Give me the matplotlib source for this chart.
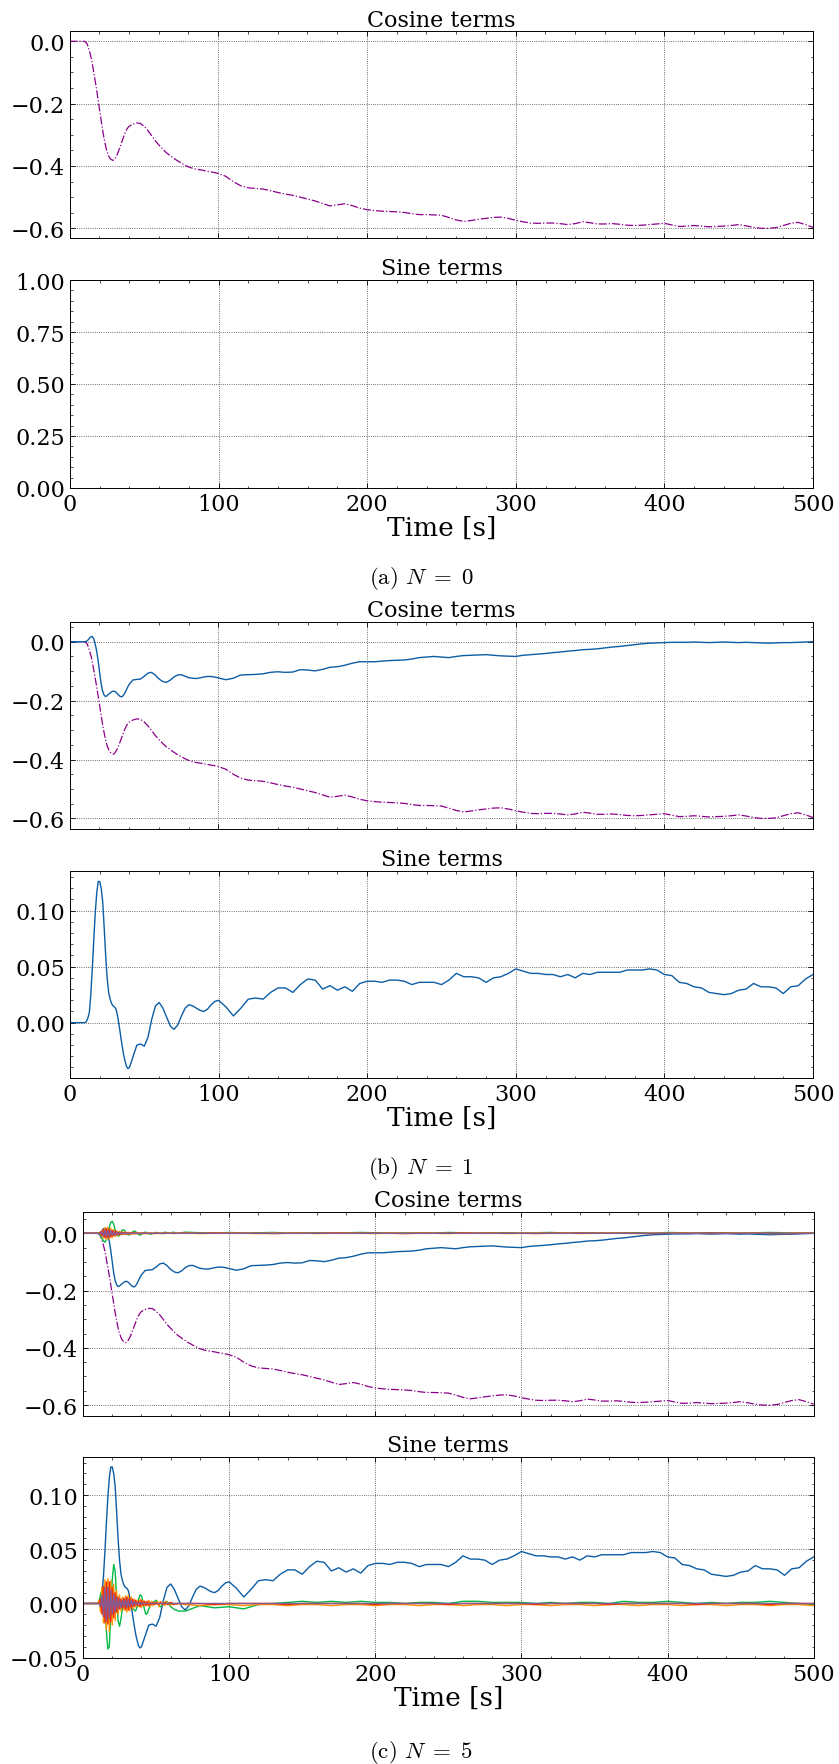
import numpy as np
import matplotlib
matplotlib.use("Agg")
import matplotlib.pyplot as plt
from matplotlib.ticker import AutoMinorLocator, MultipleLocator

# ---------------------------------------------------------------- time grids
T_FINE = np.arange(0.0, 40.1, 1.0)        # 0 ... 40 s
T_MID = np.arange(42.5, 100.1, 2.5)       # 42.5 ... 100 s
T_LATE = np.arange(105.0, 500.1, 5.0)     # 105 ... 500 s
T_MAIN = np.concatenate([T_FINE, T_MID, T_LATE])

T_HI_EARLY = np.arange(0.0, 65.1, 1.0)    # 0 ... 65 s
T_HI_LATE = np.arange(70.0, 500.1, 10.0)  # 70 ... 500 s
T_HI = np.concatenate([T_HI_EARLY, T_HI_LATE])

# ------------------------------------------------ zeroth-order cosine term a0
a0_fine = [0.0, 0.0, 0.0, 0.0, 0.0, 0.0, 0.0, 0.0, 0.0, 0.0, 0.0,
           -0.003, -0.01, -0.025, -0.042, -0.062, -0.09, -0.118, -0.148, -0.18, -0.212,
           -0.245, -0.277, -0.305, -0.33, -0.35, -0.364, -0.374, -0.379, -0.382, -0.38,
           -0.373, -0.364, -0.352, -0.339, -0.325, -0.311, -0.298, -0.287, -0.279, -0.273]
a0_mid = [-0.266, -0.262, -0.263, -0.272, -0.285, -0.301, -0.318, -0.332, -0.345, -0.357,
          -0.366, -0.375, -0.383, -0.39, -0.397, -0.403, -0.407, -0.41, -0.412, -0.414,
          -0.417, -0.419, -0.421, -0.424]
a0_late = [-0.433, -0.45, -0.463, -0.47, -0.472, -0.474, -0.479, -0.485, -0.49, -0.494,
           -0.5, -0.506, -0.512, -0.52, -0.528, -0.525, -0.521, -0.527, -0.535, -0.54,
           -0.543, -0.545, -0.546, -0.547, -0.549, -0.553, -0.556, -0.556, -0.557, -0.558,
           -0.565, -0.573, -0.578, -0.575, -0.571, -0.568, -0.565, -0.564, -0.568, -0.574,
           -0.579, -0.583, -0.584, -0.583, -0.583, -0.585, -0.588, -0.585, -0.579, -0.582,
           -0.586, -0.586, -0.585, -0.587, -0.59, -0.591, -0.59, -0.588, -0.586, -0.584,
           -0.589, -0.594, -0.593, -0.591, -0.593, -0.595, -0.594, -0.593, -0.591, -0.588,
           -0.592, -0.597, -0.6, -0.6, -0.598, -0.591, -0.584, -0.581, -0.588, -0.597]

# ------------------------------------------------- first-order terms a1, b1
a1_fine = [0.0, 0.0, 0.0, 0.0, 0.0, 0.0, 0.0, 0.0, 0.0, 0.0, 0.0,
           0.001, 0.004, 0.010, 0.016, 0.018, 0.012, -0.005, -0.028, -0.06, -0.1,
           -0.138, -0.165, -0.18, -0.186, -0.184, -0.179, -0.175, -0.171, -0.168, -0.168,
           -0.171, -0.176, -0.182, -0.186, -0.187, -0.183, -0.175, -0.165, -0.154, -0.145]
a1_mid = [-0.13, -0.128, -0.127, -0.118, -0.107, -0.104, -0.113, -0.126, -0.135, -0.138,
          -0.131, -0.12, -0.113, -0.112, -0.117, -0.122, -0.124, -0.125, -0.123, -0.12,
          -0.118, -0.118, -0.12, -0.123]
a1_late = [-0.129, -0.124, -0.113, -0.112, -0.111, -0.109, -0.104, -0.102, -0.104, -0.103,
           -0.095, -0.096, -0.099, -0.094, -0.087, -0.085, -0.08, -0.073, -0.068, -0.068,
           -0.068, -0.066, -0.064, -0.063, -0.062, -0.059, -0.054, -0.052, -0.05, -0.052,
           -0.054, -0.05, -0.047, -0.046, -0.045, -0.044, -0.046, -0.048, -0.049, -0.05,
           -0.046, -0.044, -0.042, -0.04, -0.037, -0.035, -0.032, -0.03, -0.027, -0.026,
           -0.024, -0.021, -0.018, -0.016, -0.013, -0.01, -0.007, -0.005, -0.004, -0.003,
           -0.002, -0.002, -0.002, -0.001, -0.002, -0.003, -0.002, -0.001, -0.002, -0.003,
           -0.002, -0.003, -0.004, -0.005, -0.004, -0.003, -0.003, -0.002, -0.001, 0.0]

b1_fine = [0.0, 0.0, 0.0, 0.0, 0.0, 0.0, 0.0, 0.0, 0.0, 0.0, 0.0,
           0.001, 0.004, 0.009, 0.025, 0.048, 0.074, 0.098, 0.116, 0.126, 0.126,
           0.12, 0.108, 0.085, 0.06, 0.04, 0.027, 0.021, 0.017, 0.015, 0.014,
           0.012, 0.006, -0.002, -0.011, -0.02, -0.028, -0.034, -0.039, -0.041, -0.04]
b1_mid = [-0.03, -0.02, -0.019, -0.021, -0.013, 0.003, 0.015, 0.018, 0.013, 0.005,
          -0.003, -0.006, -0.002, 0.006, 0.013, 0.016, 0.015, 0.013, 0.011, 0.01,
          0.012, 0.016, 0.019, 0.02]
b1_late = [0.014, 0.006, 0.013, 0.021, 0.022, 0.021, 0.027, 0.031, 0.031, 0.027,
           0.034, 0.039, 0.038, 0.030, 0.033, 0.029, 0.032, 0.028, 0.035, 0.037,
           0.037, 0.036, 0.038, 0.038, 0.037, 0.034, 0.036, 0.036, 0.036, 0.034,
           0.038, 0.044, 0.041, 0.041, 0.040, 0.036, 0.040, 0.041, 0.044, 0.048,
           0.046, 0.044, 0.044, 0.043, 0.043, 0.041, 0.043, 0.040, 0.044, 0.043,
           0.045, 0.045, 0.045, 0.045, 0.047, 0.047, 0.047, 0.048, 0.047, 0.043,
           0.042, 0.036, 0.035, 0.032, 0.031, 0.027, 0.026, 0.025, 0.026, 0.029,
           0.030, 0.035, 0.032, 0.032, 0.031, 0.026, 0.032, 0.033, 0.039, 0.043]

a0 = np.array(a0_fine + a0_mid + a0_late)
a1 = np.array(a1_fine + a1_mid + a1_late)
b1 = np.array(b1_fine + b1_mid + b1_late)

# ---------------------------------------------- higher-order terms (N = 5)
a2 = np.array([0, 0, 0, 0, 0, 0, 0, 0, 0, 0, 0,
               -0.002, -0.008, -0.018, -0.027, -0.031, -0.022, -0.002, 0.022, 0.038, 0.042,
               0.032, 0.012, -0.004, -0.010, -0.007, 0.004, 0.012, 0.012, 0.006, -0.002,
               -0.006, -0.005, 0.000, 0.005, 0.008, 0.006, 0.001, -0.004, -0.006, -0.004,
               0.000, 0.003, 0.004, 0.002, -0.001, -0.003, -0.002, 0.000, 0.002, 0.003,
               0.002, 0.000, -0.001, 0.000, 0.002, 0.004, 0.003, 0.001, 0.000, 0.001,
               0.003, 0.004, 0.002, 0.000, 0.000,
               0.004, 0.002, 0.001, 0.003, 0.001, 0.002, 0.003, 0.001, 0.002, 0.002,
               0.001, 0.002, 0.003, 0.002, 0.001, 0.002, 0.002, 0.001, 0.003, 0.002,
               0.001, 0.002, 0.002, 0.001, 0.002, 0.003, 0.001, 0.002, 0.002, 0.001,
               0.002, 0.002, 0.001, 0.003, 0.002, 0.001, 0.002, 0.002, 0.001, 0.002,
               0.003, 0.002, 0.001, 0.002])
a3 = np.array([0, 0, 0, 0, 0, 0, 0, 0, 0, 0, 0,
               0.002, -0.006, 0.012, -0.016, 0.020, -0.022, 0.021, -0.020, 0.018, -0.016,
               0.013, -0.011, 0.009, -0.008, 0.007, -0.006, 0.006, -0.005, 0.005, -0.004,
               0.004, -0.004, 0.003, -0.003, 0.004, -0.003, 0.003, -0.002, 0.002, -0.002,
               0.002, -0.002, 0.002, -0.001, 0.001, -0.001, 0.002, -0.001, 0.001, -0.001,
               0.001, -0.001, 0.001, 0.000, 0.001, -0.001, 0.001, 0.000, 0.001, 0.000,
               0.001, 0.000, 0.001, 0.000, 0.000,
               0.001, -0.001, 0.000, 0.001, 0.000, -0.001, 0.001, 0.000, 0.001, -0.001,
               0.000, 0.001, 0.000, -0.001, 0.001, 0.000, 0.001, 0.000, -0.001, 0.001,
               0.000, 0.001, -0.001, 0.000, 0.001, 0.000, 0.001, -0.001, 0.000, 0.001,
               0.000, -0.001, 0.001, 0.000, 0.001, 0.000, -0.001, 0.001, 0.000, 0.001,
               -0.001, 0.000, 0.001, 0.000])
a4 = np.array([0, 0, 0, 0, 0, 0, 0, 0, 0, 0, 0,
               0.000, 0.004, -0.009, 0.013, -0.016, 0.017, -0.016, 0.015, -0.013, 0.011,
               -0.009, 0.008, -0.006, 0.005, -0.004, 0.004, -0.003, 0.003, -0.003, 0.002,
               -0.002, 0.002, -0.002, 0.002, -0.001, 0.001, -0.001, 0.001, -0.001, 0.001,
               0.000, 0.001, 0.000, -0.001, 0.000, 0.001, 0.000, 0.000, -0.001, 0.000,
               0.001, 0.000, 0.000, 0.000, -0.001, 0.000, 0.000, 0.001, 0.000, 0.000,
               0.000, -0.001, 0.000, 0.000, 0.000,
               0.000, 0.000, 0.001, 0.000, 0.000, 0.000, -0.001, 0.000, 0.000, 0.000,
               0.001, 0.000, 0.000, 0.000, 0.000, -0.001, 0.000, 0.000, 0.000, 0.001,
               0.000, 0.000, 0.000, 0.000, -0.001, 0.000, 0.000, 0.001, 0.000, 0.000,
               0.000, 0.000, -0.001, 0.000, 0.000, 0.000, 0.001, 0.000, 0.000, 0.000,
               0.000, -0.001, 0.000, 0.000])
a5 = np.array([0, 0, 0, 0, 0, 0, 0, 0, 0, 0, 0,
               0.000, -0.003, 0.007, -0.010, 0.012, -0.013, 0.012, -0.011, 0.010, -0.008,
               0.007, -0.006, 0.005, -0.004, 0.003, -0.003, 0.002, -0.002, 0.002, -0.001,
               0.001, -0.001, 0.001, -0.001, 0.001, 0.000, 0.000, 0.000, 0.000, 0.000,
               0.000, 0.000, 0.000, 0.000, 0.000, 0.000, 0.000, 0.000, 0.000, 0.000,
               0.000, 0.000, 0.000, 0.000, 0.000, 0.000, 0.000, 0.000, 0.000, 0.000,
               0.000, 0.000, 0.000, 0.000, 0.000,
               0.000, 0.000, 0.000, 0.000, 0.000, 0.000, 0.000, 0.000, 0.000, 0.000,
               0.000, 0.000, 0.000, 0.000, 0.000, 0.000, 0.000, 0.000, 0.000, 0.000,
               0.000, 0.000, 0.000, 0.000, 0.000, 0.000, 0.000, 0.000, 0.000, 0.000,
               0.000, 0.000, 0.000, 0.000, 0.000, 0.000, 0.000, 0.000, 0.000, 0.000,
               0.000, 0.000, 0.000, 0.000])

b2 = np.array([0, 0, 0, 0, 0, 0, 0, 0, 0, 0, 0,
               0.002, 0.008, 0.013, 0.014, 0.002, -0.025, -0.042, -0.040, -0.010, 0.022,
               0.036, 0.030, 0.005, -0.016, -0.021, -0.014, -0.004, 0.002, 0.003, 0.002,
               0.001, 0.000, -0.002, -0.004, -0.006, -0.007, -0.003, 0.004, 0.008, 0.007,
               0.002, -0.005, -0.010, -0.009, -0.005, -0.002, 0.000, 0.001, 0.002, 0.003,
               0.001, -0.002, -0.003, -0.002, 0.000, 0.001, 0.002, 0.001, -0.001, -0.003,
               -0.004, -0.005, -0.006, -0.006, -0.007,
               -0.007, -0.002, -0.004, -0.003, -0.005, -0.001, 0.000, 0.001, 0.002, 0.001,
               0.002, 0.001, 0.002, 0.001, 0.001, 0.000, 0.001, 0.001, 0.000, 0.002,
               0.002, 0.001, 0.001, 0.001, 0.000, 0.001, 0.000, 0.001, 0.001, 0.000,
               0.002, 0.001, 0.001, 0.002, 0.001, 0.000, 0.001, 0.000, 0.001, 0.001,
               0.002, 0.001, 0.000, -0.001])
b3 = np.array([0, 0, 0, 0, 0, 0, 0, 0, 0, 0, 0,
               0.003, -0.008, 0.015, -0.018, 0.022, -0.024, 0.023, -0.026, 0.021, -0.020,
               0.018, -0.016, 0.012, -0.010, 0.008, -0.007, 0.006, -0.006, 0.007, -0.008,
               0.008, -0.007, 0.006, -0.005, 0.004, -0.003, 0.003, -0.003, 0.004, -0.004,
               0.003, -0.002, 0.002, -0.002, 0.003, -0.003, 0.002, -0.002, 0.001, -0.001,
               0.002, -0.003, 0.002, -0.001, 0.001, -0.002, 0.002, -0.001, 0.001, -0.002,
               0.001, -0.001, 0.000, -0.001, 0.000,
               -0.001, -0.002, -0.001, -0.001, -0.002, -0.001, -0.001, -0.002, -0.001, -0.001,
               -0.002, -0.001, -0.001, -0.002, -0.001, -0.001, -0.002, -0.001, -0.001, -0.002,
               -0.001, -0.001, -0.002, -0.001, -0.001, -0.002, -0.001, -0.001, -0.002, -0.001,
               -0.001, -0.002, -0.001, -0.001, -0.002, -0.001, -0.001, -0.002, -0.001, -0.001,
               -0.002, -0.001, -0.001, -0.002])
b4 = np.array([0, 0, 0, 0, 0, 0, 0, 0, 0, 0, 0, 0,
               0.004, -0.010, 0.016, -0.018, 0.020, -0.019, 0.020, -0.017, 0.015,
               -0.013, 0.010, -0.008, 0.006, -0.005, 0.004, -0.004, 0.005, -0.006, 0.006,
               -0.006, 0.005, -0.004, 0.004, -0.003, 0.003, -0.002, 0.002, -0.003, 0.003,
               -0.002, 0.002, -0.002, 0.002, -0.002, 0.001, -0.001, 0.001, -0.001, 0.001,
               0.000, -0.001, 0.001, 0.000, -0.001, 0.001, 0.000, -0.001, 0.000, 0.001,
               0.000, -0.001, 0.000, 0.000, 0.000,
               0.000, 0.000, -0.001, 0.000, 0.000, 0.000, 0.000, -0.001, 0.000, 0.000,
               0.000, 0.000, 0.000, -0.001, 0.000, 0.000, 0.000, 0.000, -0.001, 0.000,
               0.000, 0.000, 0.000, 0.000, -0.001, 0.000, 0.000, 0.000, 0.000, -0.001,
               0.000, 0.000, 0.000, 0.000, 0.000, -0.001, 0.000, 0.000, 0.000, 0.000,
               -0.001, 0.000, 0.000, 0.000])
b5 = np.array([0, 0, 0, 0, 0, 0, 0, 0, 0, 0, 0, 0,
               -0.003, 0.008, -0.012, 0.015, -0.016, 0.015, -0.014, 0.012, -0.010,
               0.009, -0.008, 0.006, -0.005, 0.004, -0.004, 0.003, -0.003, 0.004, -0.004,
               0.004, -0.003, 0.003, -0.002, 0.002, -0.001, 0.001, -0.001, 0.001, -0.001,
               0.001, 0.000, 0.000, 0.000, 0.000, 0.000, 0.000, 0.000, 0.000, 0.000,
               0.000, 0.000, 0.000, 0.000, 0.000, 0.000, 0.000, 0.000, 0.000, 0.000,
               0.000, 0.000, 0.000, 0.000, 0.000,
               0.000, 0.000, 0.000, 0.000, 0.000, 0.000, 0.000, 0.000, 0.000, 0.000,
               0.000, 0.000, 0.000, 0.000, 0.000, 0.000, 0.000, 0.000, 0.000, 0.000,
               0.000, 0.000, 0.000, 0.000, 0.000, 0.000, 0.000, 0.000, 0.000, 0.000,
               0.000, 0.000, 0.000, 0.000, 0.000, 0.000, 0.000, 0.000, 0.000, 0.000,
               0.000, 0.000, 0.000, 0.000])

CAPTIONS = [r"(a) $N \;=\; 0$", r"(b) $N \;=\; 1$", r"(c) $N \;=\; 5$"]

# ------------------------------------------------------------------ styling
A0_COLOR = "#8B008B"
CYCLE = ["#0C5DA5", "#00B945", "#FF9500", "#FF2C00", "#845B97"]

plt.rcParams.update({
    "font.family": "DejaVu Serif",
    "mathtext.fontset": "cm",
    "axes.linewidth": 0.7,
    "lines.linewidth": 1.0,
})

W, H = 839, 1765
fig = plt.figure(figsize=(W / 100, H / 100), dpi=100)


def add_axes(left, right, top, bottom):
    return fig.add_axes([left / W, 1 - bottom / H, (right - left) / W, (bottom - top) / H])


def style(ax, ylim, ystep, title, show_x):
    ax.set_xlim(0, 500)
    ax.set_ylim(*ylim)
    ax.xaxis.set_major_locator(MultipleLocator(100))
    ax.xaxis.set_minor_locator(AutoMinorLocator(5))
    ax.yaxis.set_major_locator(MultipleLocator(ystep))
    ax.yaxis.set_minor_locator(AutoMinorLocator())
    ax.grid(True, which="major", color="k", ls=":", lw=0.6, alpha=0.75)
    ax.tick_params(which="both", direction="in", top=True, right=True, labelsize=16)
    ax.tick_params(which="major", length=3.5, width=0.6)
    ax.tick_params(which="minor", length=1.8, width=0.5)
    ax.set_title(title, fontsize=16, pad=4)
    if show_x:
        ax.set_xlabel("Time [s]", fontsize=19, labelpad=0)
    else:
        ax.tick_params(labelbottom=False)


def caption(y_px, text):
    fig.text(421 / W, 1 - y_px / H, text, ha="center", va="baseline",
             fontsize=16.5, family="cmr10")


# ---- (a) N = 0
ax = add_axes(69.5, 813, 32.3, 239.3)
ax.plot(T_MAIN, a0, color=A0_COLOR, ls="-.", lw=0.9)
style(ax, (-0.632, 0.032), 0.2, "Cosine terms", False)

ax = add_axes(70, 813, 281, 489)
style(ax, (0.0, 1.0), 0.25, "Sine terms", True)
caption(584, CAPTIONS[0])

# ---- (b) N = 1
ax = add_axes(69.7, 813, 622.7, 830)
ax.plot(T_MAIN, a0, color=A0_COLOR, ls="-.", lw=0.9)
ax.plot(T_MAIN, a1, color=CYCLE[0])
style(ax, (-0.636, 0.068), 0.2, "Cosine terms", False)

ax = add_axes(70, 813, 872, 1079)
ax.plot(T_MAIN, b1, color=CYCLE[0])
style(ax, (-0.0494, 0.1354), 0.05, "Sine terms", True)
caption(1174, CAPTIONS[1])

# ---- (c) N = 5
ax = add_axes(83, 813.7, 1212.7, 1416.7)
ax.plot(T_MAIN, a0, color=A0_COLOR, ls="-.", lw=0.9)
ax.plot(T_MAIN, a1, color=CYCLE[0])
for series, c in zip([a2, a3, a4, a5], CYCLE[1:]):
    ax.plot(T_HI, series, color=c)
style(ax, (-0.637, 0.0755), 0.2, "Cosine terms", False)

ax = add_axes(83, 813.7, 1457.7, 1659.3)
ax.plot(T_MAIN, b1, color=CYCLE[0])
for series, c in zip([b2, b3, b4, b5], CYCLE[1:]):
    ax.plot(T_HI, series, color=c)
style(ax, (-0.0506, 0.1355), 0.05, "Sine terms", True)
caption(1758, CAPTIONS[2])

fig.savefig("out.png", dpi=100)
